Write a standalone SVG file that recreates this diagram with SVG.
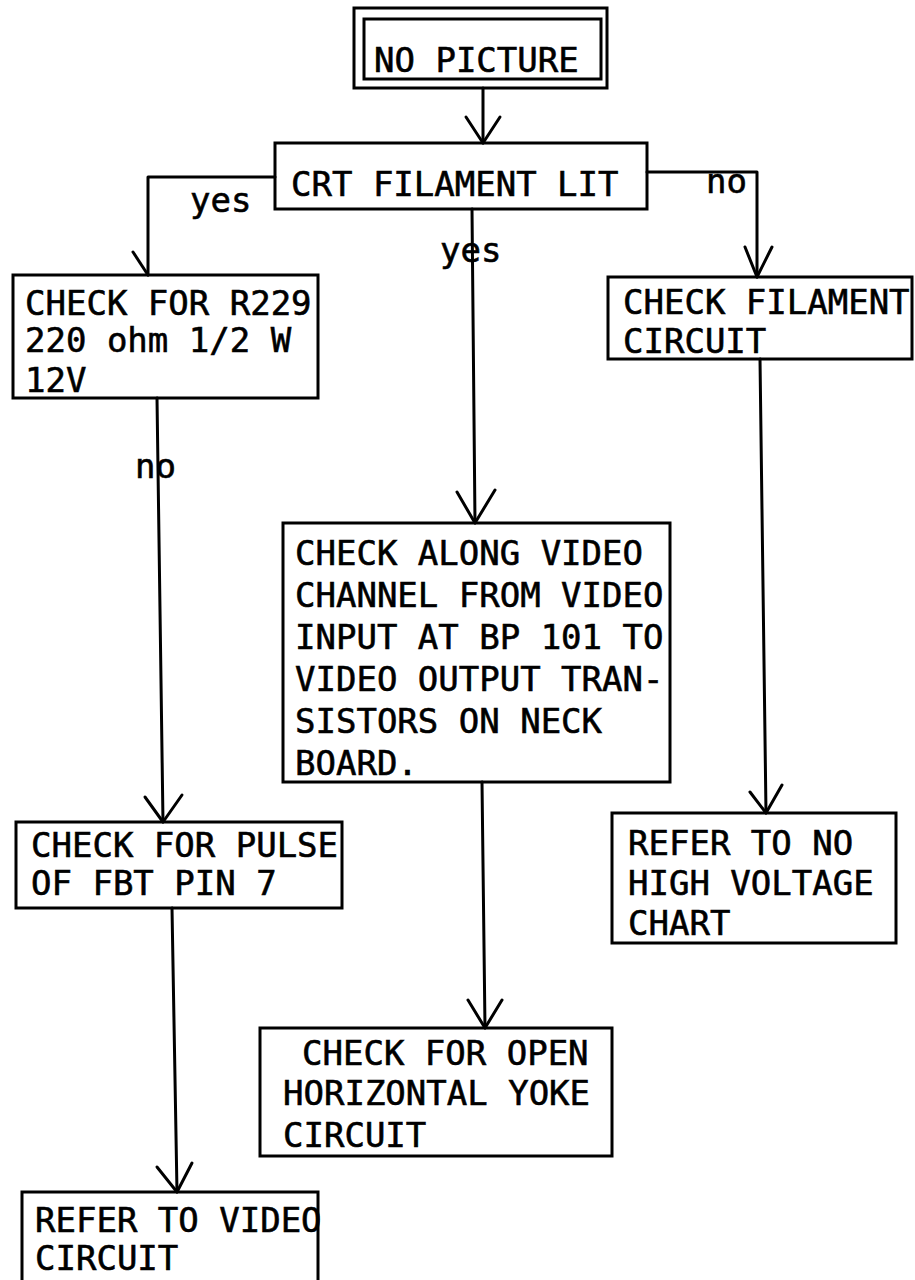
<svg xmlns="http://www.w3.org/2000/svg" width="915" height="1280" viewBox="0 0 915 1280">
<style>
  .box { fill: none; stroke: #000; stroke-width: 3; }
  .ln { fill: none; stroke: #000; stroke-width: 3; stroke-linecap: round; stroke-linejoin: round; }
  .t { font-family: "DejaVu Sans Mono", "Liberation Mono", monospace; font-size: 34px; fill: #000; stroke: #000; stroke-width: 0.6; }
</style>
<rect width="915" height="1280" fill="#fff"/>
<g id="connectors">
  <path class="ln" d="M483,88 V143"/>
  <path class="ln" d="M466,117 L483,143 L500,117"/>
  <path class="ln" d="M275,177 H148 V275"/>
  <path class="ln" d="M133,252 L148,275"/>
  <path class="ln" d="M647,172 H757 V277"/>
  <path class="ln" d="M745,247 L757,277 L772,247"/>
  <path class="ln" d="M472,209 L475,523"/>
  <path class="ln" d="M457,492 L475,523 L495,490"/>
  <path class="ln" d="M157,398 L163,822"/>
  <path class="ln" d="M145,797 L163,822 L182,795"/>
  <path class="ln" d="M760,359 L766,813"/>
  <path class="ln" d="M750,792 L766,813 L782,785"/>
  <path class="ln" d="M482,782 L485,1028"/>
  <path class="ln" d="M468,1000 L485,1028 L502,1000"/>
  <path class="ln" d="M172,908 L177,1192"/>
  <path class="ln" d="M157,1167 L177,1192 L192,1163"/>
  <text class="t" x="190" y="212">yes</text>
  <text class="t" x="706" y="193">no</text>
  <text class="t" x="440" y="262">yes</text>
  <text class="t" x="135" y="478">no</text>
</g>
<g id="n_nopicture">
  <rect class="box" x="354" y="8" width="253" height="80"/>
  <rect class="box" x="364" y="19" width="237" height="60"/>
  <text class="t" x="374" y="72">NO PICTURE</text>
</g>
<g id="n_crt">
  <rect class="box" x="275" y="143" width="372" height="66"/>
  <text class="t" x="291" y="196">CRT FILAMENT LIT</text>
</g>
<g id="n_r229">
  <rect class="box" x="13" y="275" width="305" height="123"/>
  <text class="t" x="25" y="315">CHECK FOR R229</text>
  <text class="t" x="25" y="352">220 ohm 1/2 W</text>
  <text class="t" x="25" y="392">12V</text>
</g>
<g id="n_filament">
  <rect class="box" x="608" y="277" width="304" height="82"/>
  <text class="t" x="623" y="314">CHECK FILAMENT</text>
  <text class="t" x="623" y="353">CIRCUIT</text>
</g>
<g id="n_along">
  <rect class="box" x="283" y="523" width="387" height="259"/>
  <text class="t" x="295" y="565">CHECK ALONG VIDEO</text>
  <text class="t" x="295" y="607">CHANNEL FROM VIDEO</text>
  <text class="t" x="295" y="649">INPUT AT BP 101 TO</text>
  <text class="t" x="295" y="691">VIDEO OUTPUT TRAN-</text>
  <text class="t" x="295" y="733">SISTORS ON NECK</text>
  <text class="t" x="295" y="775">BOARD.</text>
</g>
<g id="n_pulse">
  <rect class="box" x="16" y="822" width="326" height="86"/>
  <text class="t" x="31" y="857">CHECK FOR PULSE</text>
  <text class="t" x="31" y="895">OF FBT PIN 7</text>
</g>
<g id="n_hv">
  <rect class="box" x="612" y="813" width="284" height="130"/>
  <text class="t" x="628" y="855">REFER TO NO</text>
  <text class="t" x="628" y="895">HIGH VOLTAGE</text>
  <text class="t" x="628" y="935">CHART</text>
</g>
<g id="n_yoke">
  <rect class="box" x="260" y="1028" width="352" height="128"/>
  <text class="t" x="302" y="1065">CHECK FOR OPEN</text>
  <text class="t" x="283" y="1105">HORIZONTAL YOKE</text>
  <text class="t" x="283" y="1147">CIRCUIT</text>
</g>
<g id="n_video">
  <rect class="box" x="22" y="1192" width="296" height="100"/>
  <text class="t" x="35" y="1232">REFER TO VIDEO</text>
  <text class="t" x="35" y="1270">CIRCUIT</text>
</g>
</svg>
